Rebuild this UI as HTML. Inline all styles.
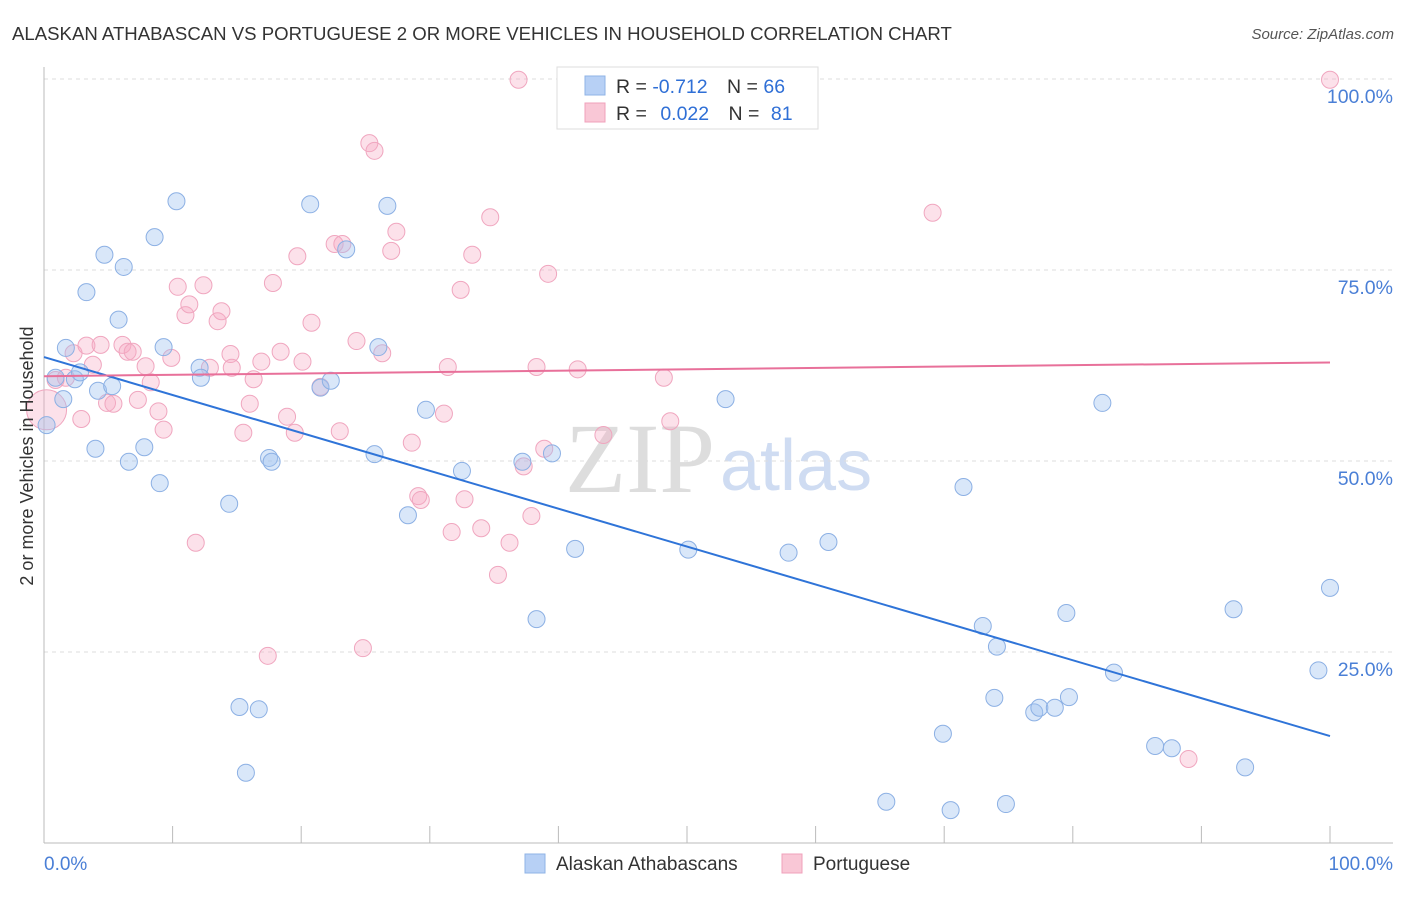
<!DOCTYPE html>
<html><head><meta charset="utf-8"><style>
body{margin:0;background:#fff;font-family:"Liberation Sans",sans-serif;}
svg text{font-family:"Liberation Sans",sans-serif;}
svg text.serif{font-family:"Liberation Serif",serif;}
</style></head><body>
<svg id="c" width="1406" height="892" xmlns="http://www.w3.org/2000/svg">
<text x="12" y="40" font-size="18.6" fill="#333">ALASKAN ATHABASCAN VS PORTUGUESE 2 OR MORE VEHICLES IN HOUSEHOLD CORRELATION CHART</text>
<text x="1394" y="39" font-size="15" fill="#555" font-style="italic" text-anchor="end">Source: ZipAtlas.com</text>
<text class="serif" x="715" y="492" font-size="100" fill="#ddd" text-anchor="end">ZIP</text>
<text x="720" y="490" font-size="72" fill="#cfdcf2">atlas</text>
<g id="grid"></g>
<g id="marks"></g>
<text transform="translate(33,456) rotate(-90)" font-size="18" fill="#333" text-anchor="middle">2 or more Vehicles in Household</text>
<g>
<rect x="557" y="67" width="261" height="62" fill="#fff" stroke="#ddd"/>
<rect x="585" y="76" width="20" height="19" fill="#b7d0f5" stroke="#8fb3e6"/>
<rect x="585" y="103" width="20" height="19" fill="#f9c7d6" stroke="#f0a0bb"/>
<text x="616" y="93" font-size="19.5" fill="#333">R = <tspan fill="#2f6fd6">-0.712</tspan>  <tspan dx="14">N = </tspan><tspan fill="#2f6fd6">66</tspan></text>
<text x="616" y="120" font-size="19.5" fill="#333">R = <tspan dx="8" fill="#2f6fd6">0.022</tspan>  <tspan dx="14">N = </tspan><tspan dx="6" fill="#2f6fd6">81</tspan></text>
</g>
<g>
<rect x="525" y="854" width="20" height="19" fill="#b7d0f5" stroke="#8fb3e6"/>
<text x="556" y="870" font-size="19" fill="#333">Alaskan Athabascans</text>
<rect x="782" y="854" width="20" height="19" fill="#f9c7d6" stroke="#f0a0bb"/>
<text x="813" y="870" font-size="19" fill="#333">Portuguese</text>
</g>
</svg>
<script>
const blueX=[0.2,0.9,1.5,1.7,2.4,2.8,3.3,4.0,4.2,4.7,5.3,5.8,6.2,6.6,7.8,8.6,9.0,9.3,10.3,12.1,12.2,14.4,15.2,15.7,16.7,17.5,17.7,20.7,21.5,22.3,23.5,26.0,25.7,26.7,28.3,29.7,32.5,37.2,39.5,38.3,41.3,50.1,53.0,57.9,61.0,65.5,69.9,70.5,71.5,73.0,74.1,73.9,74.8,77.0,77.4,78.6,79.5,79.7,82.3,83.2,86.4,87.7,92.5,93.4,99.1,100];
const blueY=[54.7,60.9,58.1,64.8,60.7,61.6,72.1,51.6,59.2,77.0,59.8,68.5,75.4,49.9,51.8,79.3,47.1,64.9,84.0,62.2,60.9,44.4,17.8,9.2,17.5,50.4,49.9,83.6,59.6,60.5,77.7,64.9,50.9,83.4,42.9,56.7,48.7,49.9,51.0,29.3,38.5,38.4,58.1,38.0,39.4,5.4,14.3,4.3,46.6,28.4,25.7,19.0,5.1,17.1,17.7,17.7,30.1,19.1,57.6,22.3,12.7,12.4,30.6,9.9,22.6,33.4];
const pinkX=[0.2,0.9,1.7,2.3,2.9,3.3,3.8,4.4,4.9,5.4,6.1,6.5,6.9,7.3,7.9,8.3,8.9,9.3,9.9,10.4,11.0,11.3,11.8,12.4,12.9,13.5,13.8,14.5,14.6,15.5,16.0,16.3,16.9,17.4,17.8,18.4,18.9,19.5,19.7,20.1,20.8,21.5,22.6,23.0,23.2,24.3,24.8,25.3,25.7,26.3,27.0,27.4,28.6,29.1,29.3,31.1,31.4,31.7,32.4,32.7,33.3,34.0,34.7,35.3,36.2,36.9,37.3,37.9,38.3,38.9,39.2,41.5,43.5,45.6,48.2,48.7,69.1,89.0,100];
const pinkY=[56.7,60.6,60.9,64.1,55.5,65.1,62.6,65.2,57.6,57.5,65.2,64.3,64.3,58.0,62.4,60.3,56.5,54.1,63.5,72.8,69.1,70.5,39.3,73.0,62.2,68.3,69.6,64.0,62.2,53.7,57.5,60.7,63.0,24.5,73.3,64.3,55.8,53.7,76.8,63.0,68.1,59.7,78.4,53.9,78.4,65.7,25.5,91.6,90.6,64.1,77.5,80.0,52.4,45.4,44.9,56.2,62.3,40.7,72.4,45.0,77.0,41.2,81.9,35.1,39.3,99.9,49.3,42.8,62.3,51.6,74.5,62.0,53.4,99.9,60.9,55.2,82.5,11.0,99.9];
const blueLine=[63.6,14.0];
const pinkLine=[61.1,62.9];
const yTicks=[100,75,50,25];
const yTickLabels=["100.0%","75.0%","50.0%","25.0%"];
const xTicks=[0,10,20,30,40,50,60,70,80,90,100];
const NS="http://www.w3.org/2000/svg";
const sx=v=>44+v*12.86, sy=v=>843-v*7.64;
function mk(t,a,p){const e=document.createElementNS(NS,t);for(const k in a)e.setAttribute(k,a[k]);p.appendChild(e);return e;}
const g=document.getElementById('grid'), m=document.getElementById('marks');
yTicks.forEach((v,i)=>{
 const l=mk('line',{x1:44,x2:1393,y1:sy(v),y2:sy(v),stroke:'#ddd','stroke-dasharray':'4,4'},g);
 
 
 const t=mk('text',{x:1393,y:sy(v)+24,'font-size':19.5,fill:'#4a7fd6','text-anchor':'end'},g);
 t.textContent=yTickLabels[i];
 
 
});
const ax=mk('line',{x1:44,x2:1393,y1:843,y2:843,stroke:'#bbb'},g);


const ay=mk('line',{x1:44,x2:44,y1:67,y2:843,stroke:'#bbb'},g);


xTicks.forEach(v=>{
 const l=mk('line',{x1:sx(v),x2:sx(v),y1:826,y2:843,stroke:'#bbb'},g);
 
 
});
const xl0=mk('text',{x:44,y:870,'font-size':19,fill:'#4a7fd6'},g);xl0.textContent='0.0%';


const xl1=mk('text',{x:1393,y:870,'font-size':19,fill:'#4a7fd6','text-anchor':'end'},g);xl1.textContent='100.0%';


pinkX.forEach((x,i)=>{
 const c=mk('circle',{cx:sx(x),cy:sy(pinkY[i]),r:i===0?20:8.5,fill:'rgba(245,170,195,0.35)',stroke:'#f0a6bf','stroke-width':1},m);
 
 
});
blueX.forEach((x,i)=>{
 const c=mk('circle',{cx:sx(x),cy:sy(blueY[i]),r:8.5,fill:'rgba(160,195,240,0.4)',stroke:'#8cb0e4','stroke-width':1},m);
 
 
});
const bl=mk('line',{x1:sx(0),y1:sy(blueLine[0]),x2:sx(100),y2:sy(blueLine[1]),stroke:'#2f74d8','stroke-width':2},m);


const pl=mk('line',{x1:sx(0),y1:sy(pinkLine[0]),x2:sx(100),y2:sy(pinkLine[1]),stroke:'#e8709a','stroke-width':2},m);


</script>
</body></html>
